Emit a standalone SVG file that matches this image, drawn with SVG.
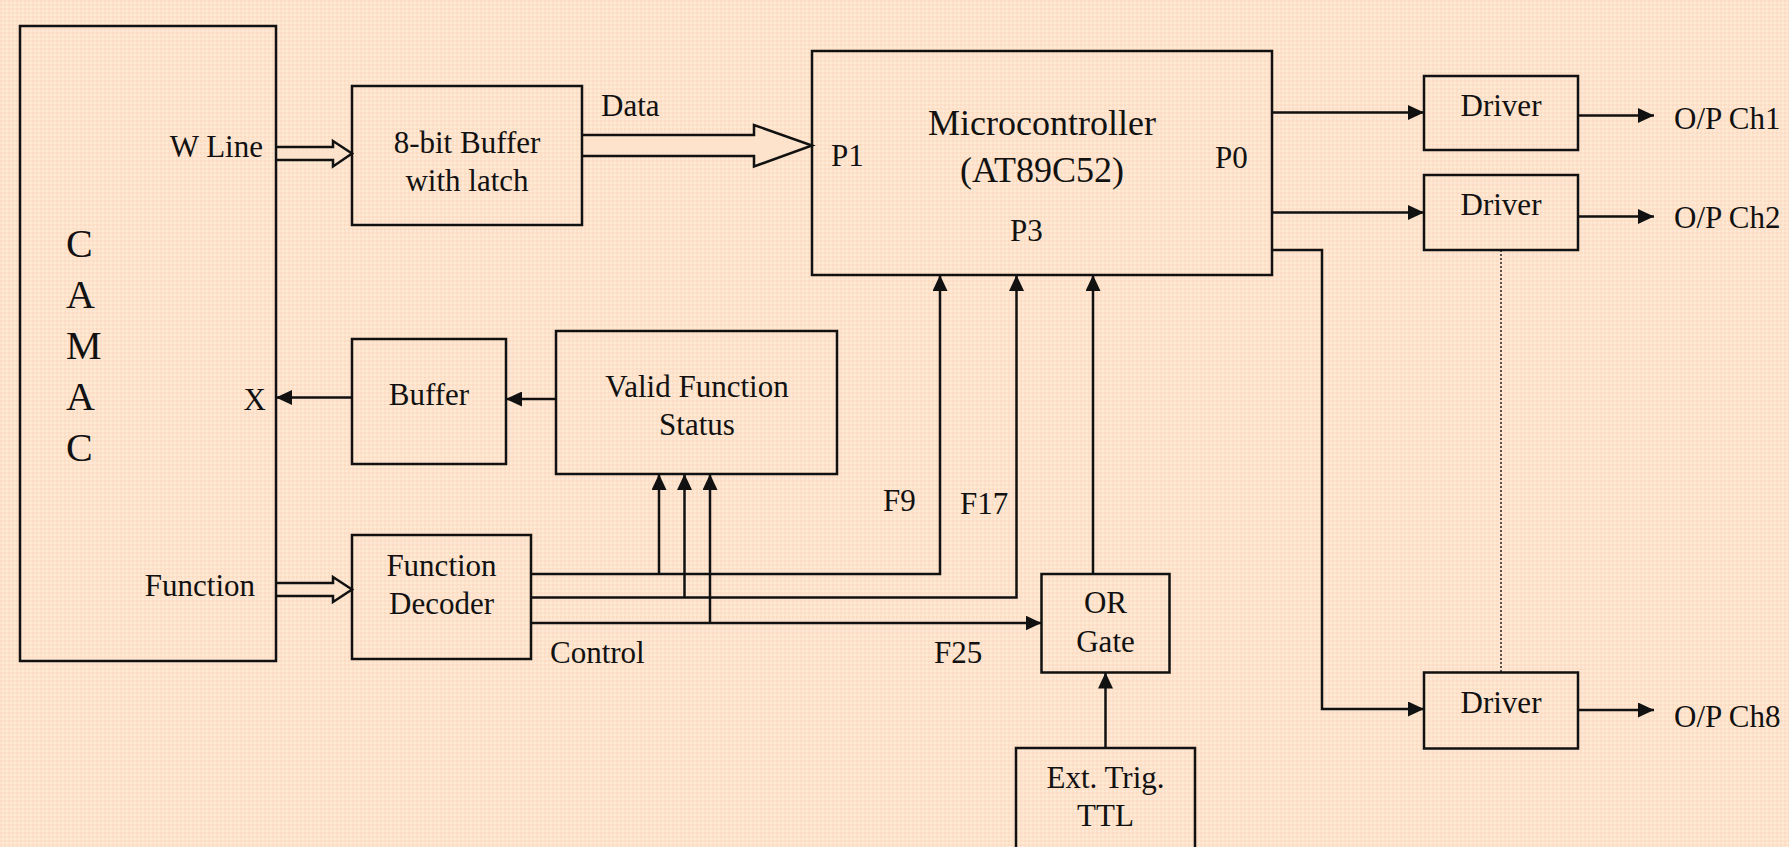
<svg xmlns="http://www.w3.org/2000/svg" width="1789" height="847" viewBox="0 0 1789 847">
  <style>
    .box { fill: none; stroke: #111; stroke-width: 2.5; }
    .wire { fill: none; stroke: #111; stroke-width: 2.5; }
    .arrow { marker-end: url(#head); }
    .bus { fill: #fde3cc; stroke: #111; stroke-width: 2.5; stroke-linejoin: miter; }
    .dots { fill: none; stroke: #222; stroke-width: 1.5; stroke-dasharray: 2 2; }
    text { font-family: "Liberation Serif", "Times New Roman", serif; font-size: 31px; fill: #111; }
    .mid { text-anchor: middle; }
    .end { text-anchor: end; }
    .big { font-size: 36px; }
    .camac { font-size: 40px; }
  </style>
  <defs>
    <pattern id="grain" width="4" height="4" patternUnits="userSpaceOnUse">
      <rect width="4" height="4" fill="#fde3cc"/>
      <rect width="2" height="2" fill="#fcdcc2"/>
      <rect x="2" y="2" width="2" height="2" fill="#fee8d6"/>
    </pattern>
    <marker id="head" markerWidth="16" markerHeight="15" refX="16" refY="7.5" orient="auto" markerUnits="userSpaceOnUse">
      <path d="M0,0 L16,7.5 L0,15 Z" fill="#111"/>
    </marker>
  </defs>

  <rect width="1789" height="847" fill="url(#grain)"/>

  <!-- connectors -->
  <g id="connectors">
    <!-- wide bus arrows -->
    <path class="bus" d="M276,147 H333 V141 L352,153.5 L333,166.5 V160 H276"/>
    <path class="bus" d="M582,135 H754 V125 L812,145.5 L754,166.5 V156 H582"/>
    <path class="bus" d="M276,583 H333 V577 L352,589.5 L333,602 V596 H276"/>

    <!-- status path to CAMAC X -->
    <line class="wire arrow" x1="352" y1="397.5" x2="276" y2="397.5"/>
    <line class="wire arrow" x1="556" y1="399" x2="506" y2="399"/>

    <!-- decoder outputs -->
    <path class="wire arrow" d="M531,574 H940 V275"/>
    <path class="wire arrow" d="M531,597.5 H1016.5 V275"/>
    <path class="wire arrow" d="M531,623 H1041.5"/>
    <line class="wire arrow" x1="659" y1="574" x2="659" y2="474"/>
    <line class="wire arrow" x1="684.5" y1="597.5" x2="684.5" y2="474"/>
    <line class="wire arrow" x1="710" y1="623" x2="710" y2="474"/>

    <!-- OR gate to P3, trigger to OR gate -->
    <line class="wire arrow" x1="1093" y1="574" x2="1093" y2="275"/>
    <line class="wire arrow" x1="1105.5" y1="748" x2="1105.5" y2="672.5"/>

    <!-- P0 to drivers -->
    <line class="wire arrow" x1="1272" y1="112.5" x2="1424" y2="112.5"/>
    <line class="wire arrow" x1="1272" y1="212.5" x2="1424" y2="212.5"/>
    <path class="wire arrow" d="M1272,250 H1322 V709 H1424"/>
    <line class="dots" x1="1501" y1="250" x2="1501" y2="672.5"/>

    <!-- driver outputs -->
    <line class="wire arrow" x1="1578" y1="115.5" x2="1654" y2="115.5"/>
    <line class="wire arrow" x1="1578" y1="216.5" x2="1654" y2="216.5"/>
    <line class="wire arrow" x1="1578" y1="710" x2="1654" y2="710"/>
  </g>

  <!-- CAMAC crate -->
  <g id="camac">
    <rect class="box" x="20" y="26" width="256" height="635"/>
    <text class="camac" x="66" y="257">C</text>
    <text class="camac" x="66" y="308">A</text>
    <text class="camac" x="66" y="359">M</text>
    <text class="camac" x="66" y="410">A</text>
    <text class="camac" x="66" y="461">C</text>
    <text class="end" x="263" y="157">W Line</text>
    <text class="end" x="266" y="410">X</text>
    <text class="end" x="255" y="596">Function</text>
  </g>

  <g id="buffer8">
    <rect class="box" x="352" y="86" width="230" height="139"/>
    <text class="mid" x="467" y="153">8-bit Buffer</text>
    <text class="mid" x="467" y="191">with latch</text>
  </g>

  <g id="mcu">
    <rect class="box" x="812" y="51" width="460" height="224"/>
    <text class="mid big" x="1042" y="135">Microcontroller</text>
    <text class="mid big" x="1042" y="182">(AT89C52)</text>
    <text x="831" y="166">P1</text>
    <text x="1215" y="168">P0</text>
    <text x="1010" y="241">P3</text>
  </g>

  <g id="xbuffer">
    <rect class="box" x="352" y="339" width="154" height="125"/>
    <text class="mid" x="429" y="405">Buffer</text>
  </g>

  <g id="valid-status">
    <rect class="box" x="556" y="331" width="281" height="143"/>
    <text class="mid" x="697" y="397">Valid Function</text>
    <text class="mid" x="697" y="435">Status</text>
  </g>

  <g id="decoder">
    <rect class="box" x="352" y="535" width="179" height="124"/>
    <text class="mid" x="441.5" y="576">Function</text>
    <text class="mid" x="441.5" y="614">Decoder</text>
  </g>

  <g id="or-gate">
    <rect class="box" x="1041.5" y="574" width="128" height="98.5"/>
    <text class="mid" x="1105.5" y="613">OR</text>
    <text class="mid" x="1105.5" y="652">Gate</text>
  </g>

  <g id="ext-trig">
    <rect class="box" x="1016" y="748" width="179" height="104"/>
    <text class="mid" x="1105.5" y="788">Ext. Trig.</text>
    <text class="mid" x="1105.5" y="826">TTL</text>
  </g>

  <g id="driver1">
    <rect class="box" x="1424" y="76" width="154" height="74"/>
    <text class="mid" x="1501" y="116">Driver</text>
  </g>
  <g id="driver2">
    <rect class="box" x="1424" y="175" width="154" height="75"/>
    <text class="mid" x="1501" y="215">Driver</text>
  </g>
  <g id="driver8">
    <rect class="box" x="1424" y="672.5" width="154" height="76"/>
    <text class="mid" x="1501" y="713">Driver</text>
  </g>

  <!-- signal labels -->
  <g id="labels">
    <text x="601" y="116">Data</text>
    <text x="883" y="511">F9</text>
    <text x="960" y="514">F17</text>
    <text x="934" y="663">F25</text>
    <text x="550" y="663">Control</text>
    <text x="1674" y="129">O/P Ch1</text>
    <text x="1674" y="228">O/P Ch2</text>
    <text x="1674" y="727">O/P Ch8</text>
  </g>
</svg>
